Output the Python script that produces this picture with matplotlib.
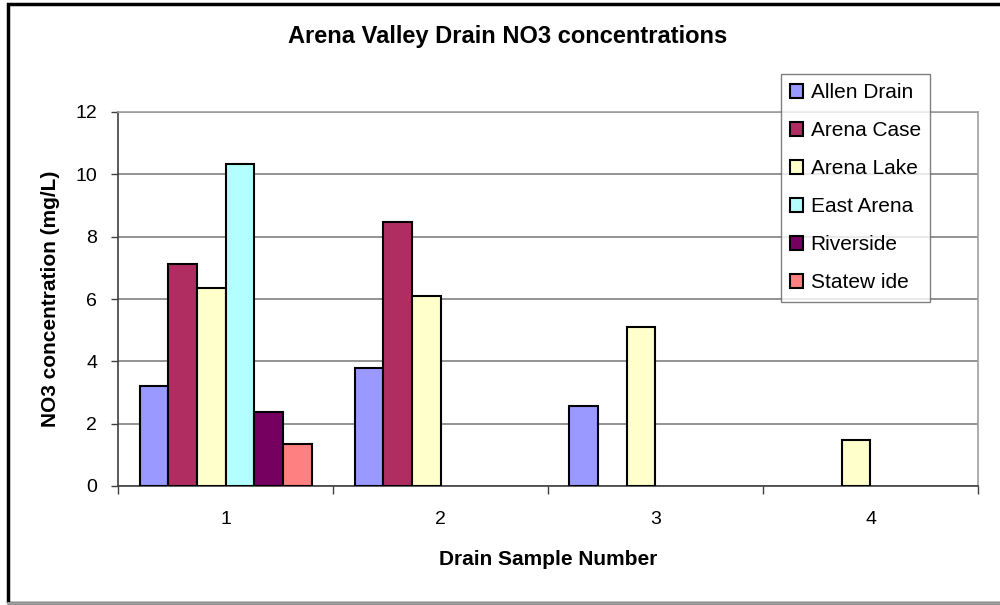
import matplotlib
matplotlib.use("Agg")
import matplotlib.pyplot as plt
import numpy as np
from matplotlib.patches import Rectangle
from matplotlib.lines import Line2D

plt.rcParams['font.family'] = ['Liberation Sans', 'DejaVu Sans']

categories = ['1', '2', '3', '4']
series_names = ['Allen Drain', 'Arena Case', 'Arena Lake', 'East Arena', 'Riverside', 'Statew ide']
allen_drain = [3.2, 3.78, 2.57, np.nan]
arena_case = [7.12, 8.47, np.nan, np.nan]
arena_lake = [6.35, 6.09, 5.09, 1.49]
east_arena = [10.32, np.nan, np.nan, np.nan]
riverside = [2.37, np.nan, np.nan, np.nan]
statewide = [1.35, np.nan, np.nan, np.nan]
series_values = [allen_drain, arena_case, arena_lake, east_arena, riverside, statewide]
colors = ['#9999FF', '#B02D62', '#FFFFCC', '#B3FFFF', '#760060', '#FF8080']
yticks = [0, 2, 4, 6, 8, 10, 12]

fig = plt.figure(figsize=(10, 6.05), dpi=100)
ax = fig.add_axes([0.118, 1 - 486 / 605, 0.86, (486 - 112) / 605])

x = np.arange(1, len(categories) + 1)
w = 1 / 7.5
for i, (name, vals, c) in enumerate(zip(series_names, series_values, colors)):
    ax.bar(x + (i - 2.5) * w, vals, width=w, color=c, edgecolor='black',
           linewidth=1.5, label=name, zorder=3)

ax.set_xlim(0.5, len(categories) + 0.5)
ax.set_ylim(0, 12)
ax.set_yticks(yticks)
ax.set_yticklabels([str(t) for t in yticks], fontsize=14)
ax.yaxis.grid(True, color='#808080', linewidth=1.2, zorder=0)
ax.set_axisbelow(True)

ax.set_xticks(np.arange(0.5, len(categories) + 1, 1))
ax.set_xticklabels([])
ax.set_xticks(x, minor=True)
ax.set_xticklabels(categories, minor=True, fontsize=14)
ax.tick_params(axis='x', which='major', direction='out', length=6, width=1, color='#404040')
ax.tick_params(axis='x', which='minor', length=0, pad=18)
ax.tick_params(axis='y', direction='out', length=5, width=1, color='#404040', pad=10)

for s in ['top', 'right']:
    ax.spines[s].set_color('#A0A0A0')
    ax.spines[s].set_linewidth(1.2)
for s in ['left', 'bottom']:
    ax.spines[s].set_color('#404040')
    ax.spines[s].set_linewidth(1.2)

ax.set_ylabel('NO3 concentration (mg/L)', fontsize=15, fontweight='bold', labelpad=11)
ax.set_xlabel('Drain Sample Number', fontsize=15, fontweight='bold', labelpad=16)

fig.text(0.5077, 1 - 37 / 605, 'Arena Valley Drain NO3 concentrations', fontsize=17,
         fontweight='bold', ha='center', va='center')

leg = ax.legend(loc='upper left', bbox_to_anchor=(781 / 1000, 1 - 74 / 605),
                bbox_transform=fig.transFigure, borderaxespad=0, fontsize=15,
                frameon=True, fancybox=False, edgecolor='#606060',
                handlelength=0.62, handleheight=0.62, handletextpad=0.35,
                labelspacing=0.91, borderpad=0.45)
leg.get_frame().set_linewidth(1.0)
leg.set_zorder(10)

# chart area border
fig.add_artist(Rectangle((8 / 1000, 1 - 603 / 605), 1.1, (603 - 4) / 605,
                         transform=fig.transFigure, fill=False,
                         edgecolor='black', linewidth=2.5))
fig.add_artist(Line2D([8 / 1000, 1], [1 - 603 / 605, 1 - 603 / 605],
                      transform=fig.transFigure, color='#A0A0A0', linewidth=2))

fig.savefig('out.png', dpi=100)
